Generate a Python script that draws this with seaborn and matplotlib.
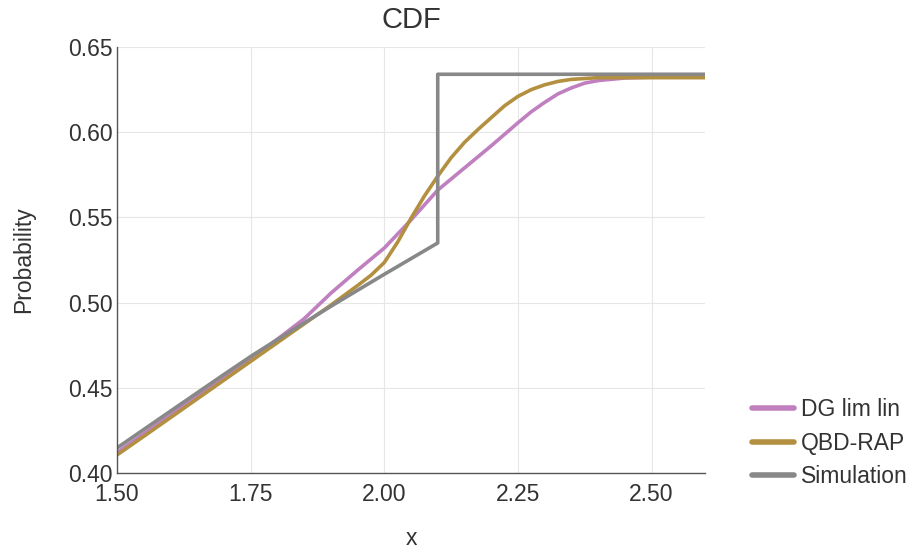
import numpy as np
import pandas as pd
import matplotlib
matplotlib.use("Agg")
import matplotlib.pyplot as plt
import seaborn as sns

# Data
x_dg = [1.50, 1.55, 1.60, 1.65, 1.70, 1.75, 1.80, 1.85, 1.90, 1.95, 2.00, 2.05, 2.10, 2.15,
        2.20, 2.25, 2.275, 2.30, 2.325, 2.35, 2.375, 2.40, 2.45, 2.50, 2.60]
y_dg = [0.412, 0.423, 0.434, 0.445, 0.456, 0.467, 0.4785, 0.4905, 0.5055, 0.519, 0.532, 0.5485,
        0.566, 0.579, 0.592, 0.6055, 0.612, 0.6175, 0.6225, 0.626, 0.6288, 0.6303, 0.6318,
        0.6323, 0.6323]

x_qbd = [1.50, 1.55, 1.60, 1.65, 1.70, 1.75, 1.80, 1.85, 1.90, 1.95, 1.975, 2.00, 2.025, 2.05,
         2.075, 2.10, 2.125, 2.15, 2.175, 2.20, 2.225, 2.25, 2.275, 2.30, 2.325, 2.35, 2.40,
         2.50, 2.60]
y_qbd = [0.4106, 0.4215, 0.4325, 0.4435, 0.4545, 0.4655, 0.4765, 0.4875, 0.4985, 0.510, 0.516,
         0.5235, 0.5355, 0.5495, 0.5625, 0.5742, 0.585, 0.594, 0.6015, 0.6085, 0.6155, 0.621,
         0.625, 0.6278, 0.6298, 0.631, 0.632, 0.632, 0.632]

x_sim = [1.50, 1.60, 1.70, 1.753, 1.80, 1.904, 2.00, 2.10, 2.10, 2.60]
y_sim = [0.4147, 0.4363, 0.4578, 0.469, 0.4783, 0.4986, 0.5166, 0.535, 0.634, 0.634]

labels = ["DG lim lin", "QBD-RAP", "Simulation"]
colors = ["#C080C0", "#B39040", "#888888"]

frames = []
for lab, xs, ys in zip(labels, [x_dg, x_qbd, x_sim], [y_dg, y_qbd, y_sim]):
    frames.append(pd.DataFrame({"x": xs, "y": ys, "series": lab}))
df = pd.concat(frames, ignore_index=True)

sns.set_theme(style="white")
plt.rcParams["font.family"] = ["Liberation Sans", "DejaVu Sans"]

fig = plt.figure(figsize=(9.11, 5.52), dpi=100)
ax = fig.add_axes([117/911, 79/552, (705-117)/911, (473-47)/552])

sns.lineplot(data=df, x="x", y="y", hue="series", palette=dict(zip(labels, colors)),
             sort=False, estimator=None, units="series", linewidth=2.6, ax=ax, legend=True)

ax.set_xlim(1.5, 2.6)
ax.set_ylim(0.40, 0.65)
ax.set_xticks([1.5, 1.75, 2.0, 2.25, 2.5])
ax.set_xticklabels(["1.50", "1.75", "2.00", "2.25", "2.50"])
ax.set_yticks([0.40, 0.45, 0.50, 0.55, 0.60, 0.65])
ax.set_yticklabels(["0.40", "0.45", "0.50", "0.55", "0.60", "0.65"])
ax.grid(True, color="#e6e6e6", linewidth=0.8)
ax.set_axisbelow(True)
for s in ["top", "right"]:
    ax.spines[s].set_visible(False)
for s in ["left", "bottom"]:
    ax.spines[s].set_color("#555555")
    ax.spines[s].set_linewidth(1.0)
ax.tick_params(axis="both", direction="in", length=6, width=1, color="#555555",
               labelsize=16.5, labelcolor="#333333")
ax.tick_params(axis="x", pad=7)
ax.tick_params(axis="y", pad=3)
ax.set_xlabel("x", fontsize=16.5, color="#333333", labelpad=15)
ax.set_ylabel("Probability", fontsize=16.5, color="#333333", labelpad=24)
ax.set_title("CDF", fontsize=21, color="#333333", pad=14)

handles, labs = ax.get_legend_handles_labels()
leg = ax.legend(handles, labs, loc="center left", bbox_to_anchor=(1.045, 0.07),
                frameon=False, fontsize=16.5, handlelength=1.85, labelspacing=0.45,
                handletextpad=0.3)
for h in leg.get_lines():
    h.set_linewidth(4)
for t in leg.get_texts():
    t.set_color("#333333")

fig.savefig("out.png", dpi=100)
